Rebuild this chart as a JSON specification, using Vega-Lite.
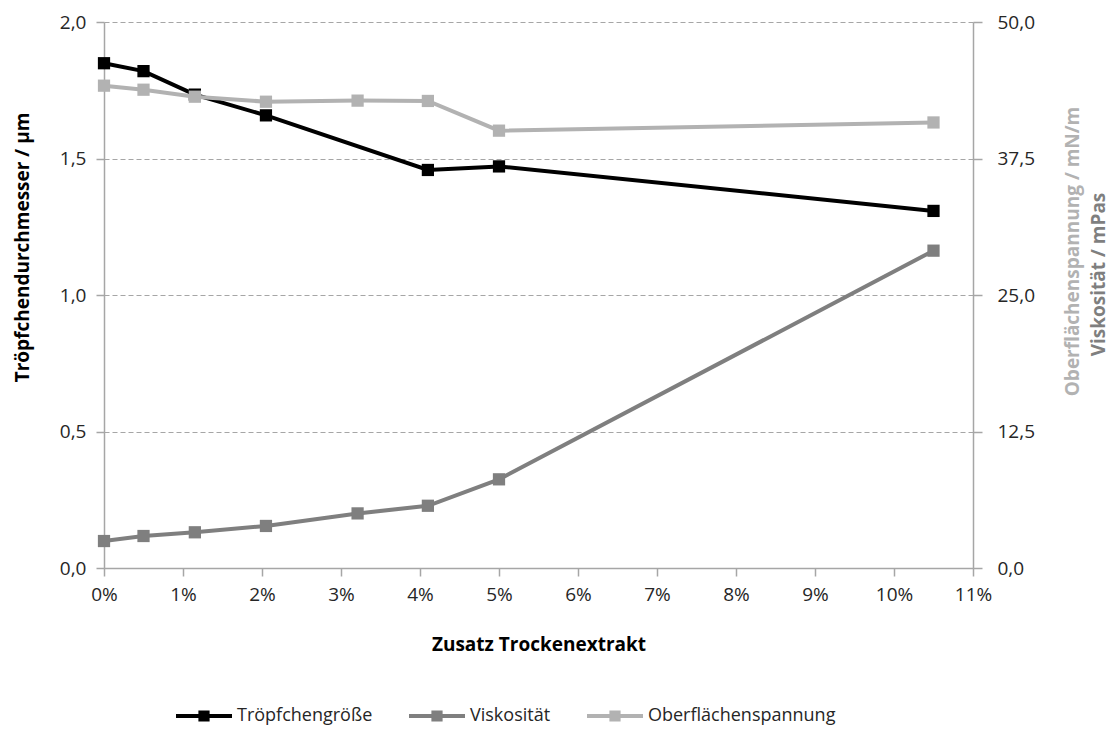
{
  "$schema": "https://vega.github.io/schema/vega-lite/v6.json",
  "width": 869,
  "height": 546,
  "autosize": "none",
  "padding": {"left": 104, "top": 22, "right": 143, "bottom": 161},
  "background": "white",
  "config": {
    "font": "Open Sans",
    "view": {"stroke": null},
    "axis": {
      "domainColor": "#a6a6a6",
      "domainWidth": 1.5,
      "tickColor": "#a6a6a6",
      "tickWidth": 1.5,
      "labelColor": "#262626",
      "labelFontSize": 19,
      "titleFontSize": 19,
      "titleFontWeight": "bold",
      "gridColor": "#a6a6a6",
      "gridDash": [5, 3],
      "gridWidth": 1.2,
      "labelFlush": false
    }
  },
  "data": {
    "values": [
      {"zusatz": 0, "wert": 1.849, "reihe": "Tröpfchengröße"},
      {"zusatz": 0.5, "wert": 1.82, "reihe": "Tröpfchengröße"},
      {"zusatz": 1.15, "wert": 1.734, "reihe": "Tröpfchengröße"},
      {"zusatz": 2.05, "wert": 1.658, "reihe": "Tröpfchengröße"},
      {"zusatz": 4.1, "wert": 1.458, "reihe": "Tröpfchengröße"},
      {"zusatz": 5.0, "wert": 1.471, "reihe": "Tröpfchengröße"},
      {"zusatz": 10.5, "wert": 1.308, "reihe": "Tröpfchengröße"},
      {"zusatz": 0, "wert": 2.47, "reihe": "Viskosität"},
      {"zusatz": 0.5, "wert": 2.93, "reihe": "Viskosität"},
      {"zusatz": 1.15, "wert": 3.27, "reihe": "Viskosität"},
      {"zusatz": 2.05, "wert": 3.85, "reihe": "Viskosität"},
      {"zusatz": 3.21, "wert": 5.0, "reihe": "Viskosität"},
      {"zusatz": 4.1, "wert": 5.7, "reihe": "Viskosität"},
      {"zusatz": 5.0, "wert": 8.12, "reihe": "Viskosität"},
      {"zusatz": 10.5, "wert": 29.06, "reihe": "Viskosität"},
      {"zusatz": 0, "wert": 44.17, "reihe": "Oberflächenspannung"},
      {"zusatz": 0.5, "wert": 43.8, "reihe": "Oberflächenspannung"},
      {"zusatz": 1.15, "wert": 43.16, "reihe": "Oberflächenspannung"},
      {"zusatz": 2.05, "wert": 42.7, "reihe": "Oberflächenspannung"},
      {"zusatz": 3.21, "wert": 42.8, "reihe": "Oberflächenspannung"},
      {"zusatz": 4.1, "wert": 42.77, "reihe": "Oberflächenspannung"},
      {"zusatz": 5.0, "wert": 40.05, "reihe": "Oberflächenspannung"},
      {"zusatz": 10.5, "wert": 40.8, "reihe": "Oberflächenspannung"}
    ]
  },
  "encoding": {
    "x": {
      "field": "zusatz",
      "type": "quantitative",
      "scale": {"domain": [0, 11], "nice": false, "zero": false},
      "axis": {
        "values": [0, 1, 2, 3, 4, 5, 6, 7, 8, 9, 10, 11],
        "labelExpr": "datum.value + '%'",
        "grid": false,
        "tickSize": 8,
        "labelPadding": 9,
        "title": "Zusatz Trockenextrakt",
        "titleColor": "#000000",
        "titleY": 76,
        "titleBaseline": "middle"
      }
    },
    "color": {
      "field": "reihe",
      "type": "nominal",
      "scale": {
        "domain": ["Tröpfchengröße", "Viskosität", "Oberflächenspannung"],
        "range": ["#000000", "#7f7f7f", "#b2b2b2"]
      },
      "legend": {
        "title": null,
        "orient": "none",
        "direction": "horizontal",
        "legendX": 72,
        "legendY": 666,
        "symbolType": "M-1,-0.07H1V0.07H-1Z M-0.2,-0.2H0.2V0.2H-0.2Z",
        "symbolSize": 3136,
        "symbolStrokeWidth": 0,
        "labelFontSize": 18,
        "labelLimit": 0,
        "labelColor": "#262626",
        "labelOffset": 5,
        "columnPadding": 36,
        "encode": {
          "symbols": {"update": {"fill": {"scale": "color", "field": "value"}, "strokeWidth": {"value": 0}}}
        }
      }
    }
  },
  "layer": [
    {
      "transform": [{"filter": "datum.reihe === 'Tröpfchengröße'"}],
      "mark": {"type": "line", "strokeWidth": 4, "point": {"shape": "square", "size": 150, "filled": true, "opacity": 1}},
      "encoding": {
        "y": {
          "field": "wert",
          "type": "quantitative",
          "scale": {"domain": [0, 2], "nice": false},
          "axis": {
            "orient": "left",
            "values": [0, 0.5, 1, 1.5, 2],
            "labelExpr": "replace(format(datum.value, '.1f'), '.', ',')",
            "grid": true,
            "tickSize": 8,
            "labelPadding": 10,
            "title": "Tröpfchendurchmesser / µm",
            "titleColor": "#000000",
            "titleX": -82,
            "titleY": 225,
            "titleBaseline": "middle",
            "titleAlign": "center",
            "titleAngle": -90
          }
        }
      }
    },
    {
      "transform": [{"filter": "datum.reihe === 'Viskosität'"}],
      "mark": {"type": "line", "strokeWidth": 4, "point": {"shape": "square", "size": 150, "filled": true, "opacity": 1}},
      "encoding": {
        "y": {
          "field": "wert",
          "type": "quantitative",
          "scale": {"domain": [0, 50], "nice": false},
          "axis": {
            "orient": "right",
            "values": [0, 12.5, 25, 37.5, 50],
            "labelExpr": "replace(format(datum.value, '.1f'), '.', ',')",
            "grid": false,
            "tickSize": 9,
            "labelPadding": 15,
            "title": "Viskosität / mPas",
            "titleColor": "#7f7f7f",
            "titleX": 125,
            "titleY": 252,
            "titleBaseline": "middle",
            "titleAlign": "center",
            "titleAngle": -90
          }
        }
      }
    },
    {
      "transform": [{"filter": "datum.reihe === 'Oberflächenspannung'"}],
      "mark": {"type": "line", "strokeWidth": 4, "point": {"shape": "square", "size": 150, "filled": true, "opacity": 1}},
      "encoding": {
        "y": {
          "field": "wert",
          "type": "quantitative",
          "scale": {"domain": [0, 50], "nice": false},
          "axis": {
            "orient": "right",
            "labels": false,
            "ticks": false,
            "domain": false,
            "grid": false,
            "title": "Oberflächenspannung / mN/m",
            "titleColor": "#b2b2b2",
            "titleX": 99,
            "titleY": 229,
            "titleBaseline": "middle",
            "titleAlign": "center",
            "titleAngle": -90
          }
        }
      }
    }
  ],
  "resolve": {"scale": {"y": "independent"}}
}
